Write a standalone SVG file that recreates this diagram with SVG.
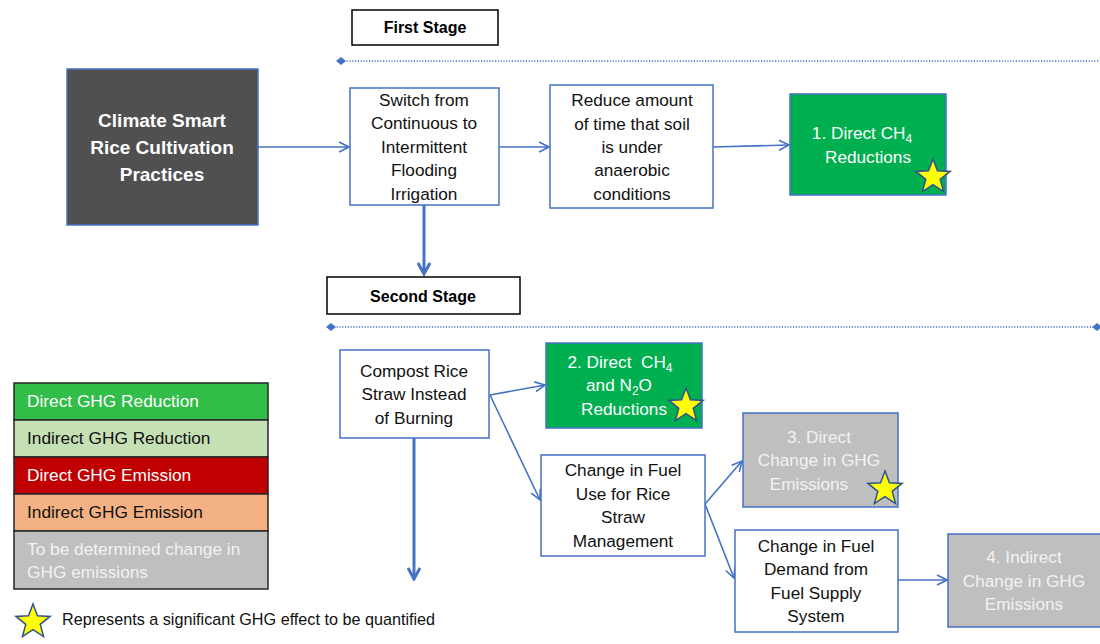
<svg xmlns="http://www.w3.org/2000/svg" width="1100" height="644" viewBox="0 0 1100 644">
  <style>
    text { font-family: "Liberation Sans", Arial, sans-serif; }
    .box { fill: #ffffff; stroke: #4472c4; stroke-width: 1.5; }
    .green { fill: #00b050; stroke: #4472c4; stroke-width: 1.5; }
    .grey { fill: #bfbfbf; stroke: #4472c4; stroke-width: 1.5; }
    .dark { fill: #505050; stroke: #4472c4; stroke-width: 1.5; }
    .stage { fill: #ffffff; stroke: #000000; stroke-width: 1.5; }
    .t { font-size: 17.2px; fill: #111111; text-anchor: middle; }
    .tw { font-size: 17.2px; fill: #ffffff; text-anchor: middle; white-space: pre; }
    .tg { font-size: 17.2px; fill: #f2f2f2; text-anchor: middle; }
    .head { font-size: 19px; font-weight: bold; fill: #ffffff; text-anchor: middle; }
    .st { font-size: 16px; font-weight: bold; fill: #000000; text-anchor: middle; }
    .leg { font-size: 17.3px; }
    .conn { fill: none; stroke: #4472c4; stroke-width: 1.6; }
    .thick { fill: none; stroke: #4472c4; stroke-width: 3; }
    .dots { fill: none; stroke: #4472c4; stroke-width: 1.5; stroke-dasharray: 1.2 1.6; }
    .star { fill: #ffff00; stroke: #2f528f; stroke-width: 1.5; stroke-linejoin: miter; }
  </style>
  <defs>
    <marker id="open" viewBox="0 0 12 12" refX="11" refY="6" markerWidth="12" markerHeight="12" markerUnits="userSpaceOnUse" orient="auto">
      <path d="M1,1 L11,6 L1,11" fill="none" stroke="#4472c4" stroke-width="1.6"/>
    </marker>
    <marker id="openThick" viewBox="0 0 14 14" refX="12" refY="7" markerWidth="14" markerHeight="14" markerUnits="userSpaceOnUse" orient="auto">
      <path d="M1,1 L12,7 L1,13" fill="none" stroke="#4472c4" stroke-width="3"/>
    </marker>
    <path id="starShape" class="star" d="M0,-18 L4.47,-6.15 L17.12,-5.56 L7.23,2.35 L10.58,14.56 L0,7.6 L-10.58,14.56 L-7.23,2.35 L-17.12,-5.56 L-4.47,-6.15 Z"/>
  </defs>

  <!-- stage headers and divider lines -->
  <g id="stage-first">
    <rect class="stage" x="352" y="10" width="146" height="35"/>
    <text class="st" x="425" y="33">First Stage</text>
    <line class="dots" x1="341" y1="61" x2="1100" y2="61"/>
    <path d="M336,61 L341,57 L346,61 L341,65 Z" fill="#4472c4"/>
  </g>
  <g id="stage-second">
    <rect class="stage" x="327" y="277" width="193" height="37"/>
    <text class="st" x="423" y="302">Second Stage</text>
    <line class="dots" x1="331" y1="327" x2="1097" y2="327"/>
    <path d="M326,327 L331,323 L336,327 L331,331 Z" fill="#4472c4"/>
    <path d="M1092,327 L1097,323 L1102,327 L1097,331 Z" fill="#4472c4"/>
  </g>

  <!-- connectors -->
  <g id="connectors">
    <line class="conn" x1="258" y1="147" x2="349" y2="147" marker-end="url(#open)"/>
    <line class="conn" x1="499" y1="147" x2="549" y2="147" marker-end="url(#open)"/>
    <line class="conn" x1="713" y1="147" x2="789" y2="145" marker-end="url(#open)"/>
    <line class="thick" x1="424" y1="205" x2="424" y2="274" marker-end="url(#openThick)"/>
    <line class="conn" x1="490" y1="395" x2="545" y2="385" marker-end="url(#open)"/>
    <line class="conn" x1="490" y1="395" x2="540" y2="500" marker-end="url(#open)"/>
    <line class="thick" x1="414" y1="438" x2="414" y2="579" marker-end="url(#openThick)"/>
    <line class="conn" x1="705" y1="504" x2="742" y2="461" marker-end="url(#open)"/>
    <line class="conn" x1="705" y1="504" x2="734" y2="578" marker-end="url(#open)"/>
    <line class="conn" x1="898" y1="580" x2="947" y2="580" marker-end="url(#open)"/>
  </g>

  <g id="node-csrc">
    <rect class="dark" x="67" y="69" width="191" height="156"/>
    <text class="head" x="162" y="127">Climate Smart</text>
    <text class="head" x="162" y="154">Rice Cultivation</text>
    <text class="head" x="162" y="181">Practices</text>
  </g>

  <g id="node-switch">
    <rect class="box" x="350" y="88" width="149" height="117"/>
    <text class="t" x="424" y="106">Switch from</text>
    <text class="t" x="424" y="129">Continuous to</text>
    <text class="t" x="424" y="153">Intermittent</text>
    <text class="t" x="424" y="176">Flooding</text>
    <text class="t" x="424" y="200">Irrigation</text>
  </g>

  <g id="node-reduce">
    <rect class="box" x="550" y="85" width="163" height="123"/>
    <text class="t" x="632" y="106">Reduce amount</text>
    <text class="t" x="632" y="130">of time that soil</text>
    <text class="t" x="632" y="153">is under</text>
    <text class="t" x="632" y="176">anaerobic</text>
    <text class="t" x="632" y="200">conditions</text>
  </g>

  <g id="node-result1">
    <rect class="green" x="790" y="94" width="156" height="101"/>
    <text class="tw" x="862" y="139">1. Direct CH<tspan font-size="12" dy="4">4</tspan></text>
    <text class="tw" x="868" y="163">Reductions</text>
    <use href="#starShape" x="933" y="177"/>
  </g>

  <g id="node-compost">
    <rect class="box" x="340" y="350" width="149" height="88"/>
    <text class="t" x="414" y="377">Compost Rice</text>
    <text class="t" x="414" y="400">Straw Instead</text>
    <text class="t" x="414" y="424">of Burning</text>
  </g>

  <g id="node-result2">
    <rect class="green" x="546" y="343" width="156" height="85"/>
    <text class="tw" x="620" y="368">2. Direct  CH<tspan font-size="12" dy="4">4</tspan></text>
    <text class="tw" x="619" y="391">and N<tspan font-size="12" dy="4">2</tspan><tspan dy="-4">O</tspan></text>
    <text class="tw" x="624" y="415">Reductions</text>
    <use href="#starShape" x="686" y="406"/>
  </g>

  <g id="node-fueluse">
    <rect class="box" x="541" y="455" width="164" height="101"/>
    <text class="t" x="623" y="476">Change in Fuel</text>
    <text class="t" x="623" y="500">Use for Rice</text>
    <text class="t" x="623" y="523">Straw</text>
    <text class="t" x="623" y="547">Management</text>
  </g>

  <g id="node-result3">
    <rect class="grey" x="743" y="413" width="155" height="94"/>
    <text class="tg" x="819" y="443">3. Direct</text>
    <text class="tg" x="819" y="466">Change in GHG</text>
    <text class="tg" x="809" y="490">Emissions</text>
    <use href="#starShape" x="885" y="489"/>
  </g>

  <g id="node-fueldemand">
    <rect class="box" x="735" y="530" width="163" height="102"/>
    <text class="t" x="816" y="552">Change in Fuel</text>
    <text class="t" x="816" y="575">Demand from</text>
    <text class="t" x="816" y="599">Fuel Supply</text>
    <text class="t" x="816" y="622">System</text>
  </g>

  <g id="node-result4">
    <rect class="grey" x="948" y="534" width="160" height="93"/>
    <text class="tg" x="1024" y="563">4. Indirect</text>
    <text class="tg" x="1024" y="587">Change in GHG</text>
    <text class="tg" x="1024" y="610">Emissions</text>
  </g>

  <!-- legend -->
  <g id="legend">
    <rect x="14" y="383" width="254" height="37" fill="#31bd48" stroke="#262626" stroke-width="1.5"/>
    <rect x="14" y="420" width="254" height="37" fill="#c5e0b4" stroke="#262626" stroke-width="1.5"/>
    <rect x="14" y="457" width="254" height="37" fill="#c00000" stroke="#262626" stroke-width="1.5"/>
    <rect x="14" y="494" width="254" height="37" fill="#f4b183" stroke="#262626" stroke-width="1.5"/>
    <rect x="14" y="531" width="254" height="58" fill="#bfbfbf" stroke="#262626" stroke-width="1.5"/>
    <text class="leg" x="27" y="407" fill="#ffffff">Direct GHG Reduction</text>
    <text class="leg" x="27" y="444" fill="#111111">Indirect GHG Reduction</text>
    <text class="leg" x="27" y="481" fill="#ffffff">Direct GHG Emission</text>
    <text class="leg" x="27" y="518" fill="#111111">Indirect GHG Emission</text>
    <text class="leg" x="27" y="555" fill="#f2f2f2">To be determined change in</text>
    <text class="leg" x="27" y="578" fill="#f2f2f2">GHG emissions</text>
    <use href="#starShape" x="33" y="622"/>
    <text x="62" y="625" font-size="16.2" fill="#111111">Represents a significant GHG effect to be quantified</text>
  </g>
</svg>
